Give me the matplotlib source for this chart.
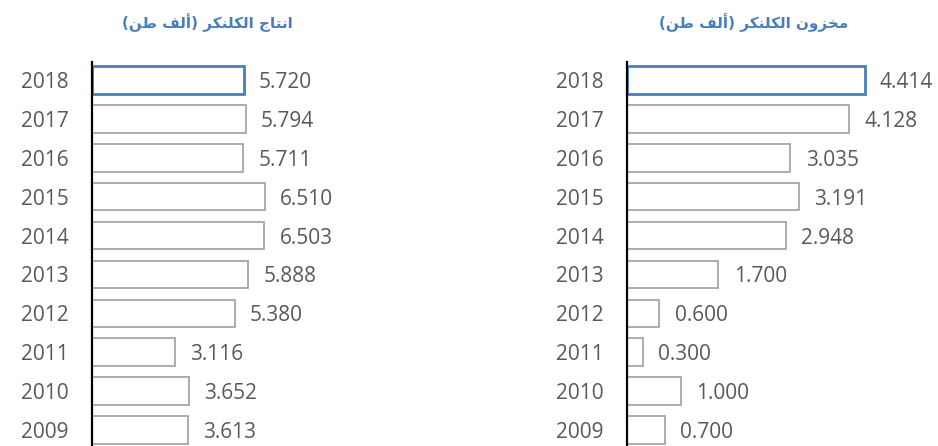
import matplotlib
matplotlib.use('Agg')
import matplotlib.pyplot as plt

# data
years = ['2018', '2017', '2016', '2015', '2014', '2013', '2012', '2011', '2010', '2009']
production = [5.720, 5.794, 5.711, 6.510, 6.503, 5.888, 5.380, 3.116, 3.652, 3.613]
stock = [4.414, 4.128, 3.035, 3.191, 2.948, 1.700, 0.600, 0.300, 1.000, 0.700]
title_production = 'انتاج الكلنكر (ألف طن)'
title_stock = 'مخزون الكلنكر (ألف طن)'

# arabic presentation forms: isolated, final, initial, medial
FORMS = {
    'ا': ('\uFE8D', '\uFE8E', None, None),
    'أ': ('\uFE83', '\uFE84', None, None),
    'ر': ('\uFEAD', '\uFEAE', None, None),
    'ز': ('\uFEAF', '\uFEB0', None, None),
    'و': ('\uFEED', '\uFEEE', None, None),
    'ن': ('\uFEE5', '\uFEE6', '\uFEE7', '\uFEE8'),
    'ت': ('\uFE95', '\uFE96', '\uFE97', '\uFE98'),
    'ج': ('\uFE9D', '\uFE9E', '\uFE9F', '\uFEA0'),
    'ل': ('\uFEDD', '\uFEDE', '\uFEDF', '\uFEE0'),
    'ك': ('\uFED9', '\uFEDA', '\uFEDB', '\uFEDC'),
    'ف': ('\uFED1', '\uFED2', '\uFED3', '\uFED4'),
    'ط': ('\uFEC1', '\uFEC2', '\uFEC3', '\uFEC4'),
    'م': ('\uFEE1', '\uFEE2', '\uFEE3', '\uFEE4'),
    'خ': ('\uFEA5', '\uFEA6', '\uFEA7', '\uFEA8'),
}


def shape_arabic(text):
    out = []
    for i, ch in enumerate(text):
        if ch not in FORMS:
            out.append(ch)
            continue
        prev = text[i - 1] if i > 0 else ''
        nxt = text[i + 1] if i + 1 < len(text) else ''
        join_prev = prev in FORMS and FORMS[prev][2] is not None
        join_next = FORMS[ch][2] is not None and nxt in FORMS
        iso, fin, ini, med = FORMS[ch]
        if join_prev and join_next:
            out.append(med)
        elif join_prev:
            out.append(fin)
        elif join_next:
            out.append(ini)
        else:
            out.append(iso)
    vis = ''.join(reversed(out))
    return vis.translate(str.maketrans('()', ')('))


gray_txt = '#595959'
blue = '#4a7ebb'

fig = plt.figure(figsize=(9.38, 4.46), dpi=100)

W, H = 938, 446
# ylim chosen so the year rows sit where they do in the source (bottom row cut off)
ylim = (9.41, -0.463)


def panel(left_px, width_px, values, xmax, title, title_x):
    ax = fig.add_axes([left_px / W, 0, width_px / W, 384 / H])
    pos = list(range(len(years)))
    edges = [blue] + ['#a6a6a6'] * (len(years) - 1)
    lws = [2.0] + [1.3] * (len(years) - 1)
    ax.barh(pos, values, height=0.71, color='white', edgecolor=edges, linewidth=lws, zorder=2)
    for p, v in zip(pos, values):
        ax.annotate('%.3f' % v, (v, p), xytext=(11, 0), textcoords='offset points',
                    va='center_baseline', ha='left', fontsize=15, color=gray_txt,
                    family='Open Sans')
    ax.set_xlim(0, xmax)
    ax.set_ylim(*ylim)
    ax.set_yticks(pos)
    ax.set_yticklabels(years, fontsize=15, color=gray_txt, family='Open Sans')
    ax.tick_params(axis='y', length=0, pad=17)
    ax.set_xticks([])
    for s in ['top', 'right', 'bottom']:
        ax.spines[s].set_visible(False)
    ax.spines['left'].set_linewidth(1.6)
    ax.spines['left'].set_color('black')
    ax.patch.set_alpha(0)
    fig.text(title_x / W, 1 - 23 / H, shape_arabic(title), ha='center', va='center',
             fontsize=11, fontweight='bold', color=blue, family='DejaVu Sans')
    return ax


panel(92, 318, production, 12.0, title_production, 207)
panel(627, 296, stock, 5.5, title_stock, 754)

fig.savefig('out.png', dpi=100, facecolor='white')
